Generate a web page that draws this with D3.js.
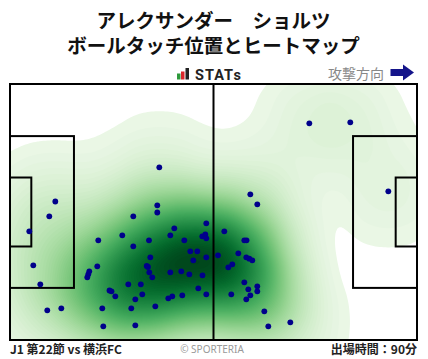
<!DOCTYPE html>
<html><head><meta charset="utf-8">
<script src="https://cdn.jsdelivr.net/npm/d3@7"></script>
<style>body{margin:0;background:#fff;overflow:hidden}</style>
</head><body>
<svg id="c" width="428" height="359"></svg>
<script>
// ---- data (pitch metres: x 0-105 attacking to the right, y 0-68 from top) ----
const titleLines = ["アレクサンダー　ショルツ", "ボールタッチ位置とヒートマップ"];
const footerLeft = "J1 第22節 vs 横浜FC";
const footerRight = "出場時間：90分";
const credit = "© SPORTERIA";
const directionLabel = "攻撃方向";
const touchX = [11.69,10.14,4.98,6.01,7.82,9.62,13.24,22.78,22.52,20.46,20.20,19.94,23.81,24.07,31.81,38.00,38.00,28.97,31.81,35.86,
  36.20,35.27,35.94,36.71,30.52,33.75,34.13,32.33,25.67,26.19,27.17,31.29,32.33,37.49,41.36,42.39,44.97,46.52,48.32,47.29,
  41.36,44.19,46.26,49.66,48.58,50.64,44.45,40.84,41.87,50.64,49.61,50.39,50.64,50.64,53.66,63.80,62.00,55.29,60.45,61.02,
  58.90,60.96,61.74,62.51,57.35,56.32,60.45,61.48,63.80,63.80,62.00,60.96,57.09,65.61,66.64,72.32,77.22,87.79,97.60,38.52,35.60];
const touchY = [31.21,35.14,39.13,48.16,53.20,60.11,59.58,41.52,48.42,49.75,50.55,51.35,59.58,64.36,35.14,32.22,34.13,40.19,43.11,41.52,
  46.03,48.34,50.02,51.35,53.20,53.20,55.86,57.19,54.85,55.06,56.39,59.58,64.10,59.05,40.19,38.33,41.52,44.44,44.44,46.83,
  50.02,49.75,50.55,50.81,54.27,55.86,56.13,56.92,56.39,37.00,40.45,39.98,40.99,46.03,45.50,31.95,29.30,39.13,41.52,41.52,
  44.97,46.03,46.40,46.83,47.89,48.69,52.67,54.53,53.74,55.06,56.13,57.19,55.86,60.38,64.36,63.30,10.44,10.17,28.50,22.13,48.61];

// ---- layout ----
const W = 428, H = 359;
const P = {l: 10, r: 417, t: 84, b: 340};
const xs = d3.scaleLinear().domain([0, 105]).range([P.l, P.r]);
const ys = d3.scaleLinear().domain([0, 68]).range([P.t, P.b]);
const svg = d3.select("#c");
const jp = "'Noto Sans CJK JP','Noto Sans',sans-serif";

// title
svg.selectAll("text.title").data(titleLines).join("text")
  .attr("x", 213.5).attr("y", (d, i) => 28 + i * 24.5)
  .attr("text-anchor", "middle").attr("font-family", jp).attr("font-weight", 700)
  .attr("font-size", 19.5).attr("fill", "#111").text(d => d);

// STATs logo
const bars = [{x: 177, h: 6, c: "#2e9a3c"}, {x: 181, h: 8, c: "#d9262b"}, {x: 185.5, h: 11.5, c: "#222"}];
svg.selectAll("rect.logo").data(bars).join("rect")
  .attr("x", d => d.x).attr("y", d => 79.5 - d.h).attr("width", 3.5).attr("height", d => d.h).attr("fill", d => d.c);
svg.append("text").attr("x", 195).attr("y", 79.5).attr("font-family", "Roboto,'DejaVu Sans',sans-serif")
  .attr("font-weight", 700).attr("font-size", 14.5).attr("letter-spacing", 1).attr("fill", "#222").text("STATs");

// attack direction
svg.append("text").attr("x", 384).attr("y", 79).attr("text-anchor", "end").attr("font-family", jp)
  .attr("font-size", 14).attr("fill", "#888").text(directionLabel);
svg.append("path").attr("d", "M390.5,69 L403,69 L403,64.5 L414,72.5 L403,80.5 L403,76 L390.5,76 Z").attr("fill", "#14148a");

// heatmap
const clip = svg.append("clipPath").attr("id", "pc");
clip.append("rect").attr("x", P.l).attr("y", P.t).attr("width", P.r - P.l).attr("height", P.b - P.t);
const pts = touchX.map((x, i) => [xs(x), ys(touchY[i])]);
const dens = d3.contourDensity().x(d => d[0]).y(d => d[1]).size([W, H]).cellSize(2).bandwidth(31);
let maxV;
if (typeof dens.contours === "function") {
  maxV = dens.contours(pts).max;
} else {
  maxV = d3.max(dens.thresholds(400)(pts), c => c.value) * 1.01;
}
const nLev = 80, t0 = 0.01;
const thr = d3.range(nLev).map(i => maxV * (t0 + (0.999 - t0) * i / (nLev - 1)));
const cs = dens.thresholds(thr)(pts);
const col = v => d3.interpolateGreens(0.07 + 0.93 * Math.pow(v / maxV, 0.85));
const hg = svg.append("g").attr("clip-path", "url(#pc)");
hg.selectAll("path").data(cs).join("path").attr("d", d3.geoPath()).attr("fill", d => col(d.value));

// pitch lines
const lines = svg.append("g").attr("fill", "none").attr("stroke", "#000").attr("stroke-width", 2);
lines.append("rect").attr("x", xs(0)).attr("y", ys(0)).attr("width", xs(105) - xs(0)).attr("height", ys(68) - ys(0));
lines.append("line").attr("x1", xs(52.5)).attr("x2", xs(52.5)).attr("y1", ys(0)).attr("y2", ys(68));
const boxes = [[0, 16.5, 40.32], [0, 5.5, 18.32], [105 - 16.5, 16.5, 40.32], [105 - 5.5, 5.5, 18.32]];
lines.selectAll("rect.box").data(boxes).join("rect")
  .attr("x", d => xs(d[0])).attr("y", d => ys(34 - d[2] / 2))
  .attr("width", d => xs(d[1]) - xs(0)).attr("height", d => ys(d[2]) - ys(0));

// touches
svg.append("g").selectAll("circle").data(pts).join("circle")
  .attr("cx", d => d[0]).attr("cy", d => d[1]).attr("r", 2.9).attr("fill", "#00008b");

// footer
svg.append("text").attr("x", 10).attr("y", 354).attr("font-family", jp).attr("font-weight", 700)
  .attr("font-size", 12).attr("fill", "#222").text(footerLeft);
svg.append("text").attr("x", 212).attr("y", 353).attr("text-anchor", "middle").attr("font-family", "'Noto Sans',sans-serif")
  .attr("font-size", 10).attr("fill", "#999").text(credit);
svg.append("text").attr("x", 417).attr("y", 354).attr("text-anchor", "end").attr("font-family", jp).attr("font-weight", 700)
  .attr("font-size", 12).attr("fill", "#222").text(footerRight);
</script>
</body></html>
